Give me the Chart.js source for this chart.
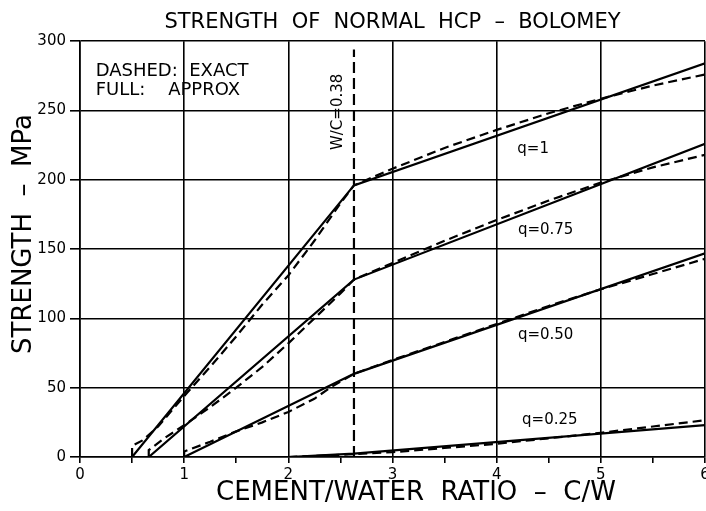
<!DOCTYPE html>
<html>
<head>
<meta charset="utf-8">
<script src="https://cdn.jsdelivr.net/npm/chart.js@4"></script>
<style>
  html, body { margin: 0; padding: 0; background: #fff; }
  canvas { display: block; }
</style>
</head>
<body>
<canvas id="chart" width="706" height="511"></canvas>
<script>
'use strict';

const FONT = '"DejaVu Sans", sans-serif';

// C/W where W/C = 0.38
const wcLine = [[2.63, 0], [2.63, 294]];

// full lines (approx), [C/W, MPa]
const approxQ100 = [[0.5, 0], [2.63, 196], [6, 284]];
const approxQ075 = [[0.66, 0], [2.63, 128], [6, 226]];
const approxQ050 = [[1.0, 0], [2.63, 60], [6, 147]];
const approxQ025 = [[2.0, 0], [2.63, 2.5], [6, 23]];

// dashed lines (exact)
const exactQ100 = [[0.5, 0], [0.5, 8], [0.6, 12], [0.75, 22], [1.0, 44], [1.25, 65], [1.5, 87], [1.75, 110],
    [2.0, 131], [2.25, 156], [2.5, 183], [2.63, 196], [3, 208], [3.5, 223], [4, 236], [4.5, 248],
    [5, 258.5], [5.5, 268], [6, 276]];
const exactQ075 = [[0.66, 0], [0.66, 5], [0.8, 13], [1.0, 23], [1.25, 36], [1.5, 50], [1.75, 65], [2.0, 82],
    [2.25, 100], [2.5, 118], [2.63, 128], [3, 140], [3.5, 156], [4, 171], [4.5, 185], [5, 198],
    [5.5, 209], [6, 218]];
const exactQ050 = [[1.0, 0], [1.0, 4], [1.25, 11], [1.5, 18.5], [1.75, 25], [2.0, 32.5], [2.25, 42], [2.4, 50],
    [2.63, 60], [3, 70], [3.5, 83], [4, 96], [4.5, 109], [5, 121], [5.5, 132], [6, 143]];
const exactQ025 = [[2.0, 0], [2.63, 2], [3, 3.5], [3.5, 6.5], [4, 9.5], [4.5, 13.5], [5, 17.5], [5.5, 22], [6, 26.5]];

const qLabels = ['q=1', 'q=0.75', 'q=0.50', 'q=0.25'];

const toPoints = arr => arr.map(([x, y]) => ({ x, y }));

function lineSet(arr, dash) {
    return {
        data: toPoints(arr),
        borderColor: '#000',
        borderWidth: 2.2,
        borderDash: dash,
        pointRadius: 0,
        tension: 0,
        fill: false
    };
}

// texts placed in data units
const plotText = {
    id: 'plotText',
    afterDraw(chart) {
        const { ctx, scales: { x, y } } = chart;
        ctx.save();
        ctx.fillStyle = '#000';
        ctx.textBaseline = 'middle';

        ctx.font = `18px ${FONT}`;
        ctx.textAlign = 'left';
        ctx.fillText('DASHED:  EXACT', x.getPixelForValue(0.15), y.getPixelForValue(278));
        ctx.fillText('FULL:    APPROX', x.getPixelForValue(0.15), y.getPixelForValue(264.5));

        ctx.font = `15px ${FONT}`;
        ctx.textAlign = 'center';
        const spots = [[4.35, 222], [4.47, 164], [4.47, 88], [4.51, 26.7]];
        qLabels.forEach((t, i) => {
            ctx.fillText(t, x.getPixelForValue(spots[i][0]), y.getPixelForValue(spots[i][1]));
        });

        ctx.save();
        ctx.translate(x.getPixelForValue(2.476), y.getPixelForValue(249));
        ctx.rotate(-Math.PI / 2);
        ctx.fillText('W/C=0.38', 0, 0);
        ctx.restore();

        // axis titles
        ctx.font = `26px ${FONT}`;
        ctx.fillText('CEMENT/WATER  RATIO  –  C/W', 416, 493);
        ctx.save();
        ctx.translate(24, 234);
        ctx.rotate(-Math.PI / 2);
        ctx.fillText('STRENGTH  –  MPa', 0, 0);
        ctx.restore();

        ctx.restore();
    }
};

new Chart(document.getElementById('chart'), {
    type: 'line',
    data: {
        datasets: [
            lineSet(approxQ100, []),
            lineSet(approxQ075, []),
            lineSet(approxQ050, []),
            lineSet(approxQ025, []),
            lineSet(exactQ100, [9, 5]),
            lineSet(exactQ075, [9, 5]),
            lineSet(exactQ050, [9, 5]),
            lineSet(exactQ025, [9, 5]),
            lineSet(wcLine, [11, 5])
        ]
    },
    options: {
        responsive: false,
        animation: false,
        layout: { padding: { left: 0, right: 1, top: 0, bottom: 0 } },
        plugins: {
            legend: { display: false },
            tooltip: { enabled: false },
            title: {
                display: true,
                text: 'STRENGTH  OF  NORMAL  HCP  –  BOLOMEY',
                fullSize: false,
                color: '#000',
                font: { family: FONT, size: 21, weight: 'normal', lineHeight: 1.2 },
                padding: { top: 10, bottom: 6 }
            }
        },
        scales: {
            x: {
                type: 'linear',
                min: 0,
                max: 6,
                ticks: {
                    stepSize: 0.5,
                    autoSkip: false,
                    maxRotation: 0,
                    padding: 3,
                    color: '#000',
                    font: { family: FONT, size: 15 },
                    callback: v => Number.isInteger(v) ? v : ''
                },
                grid: {
                    color: c => (c.tick && !Number.isInteger(c.tick.value)) ? 'rgba(0,0,0,0)' : '#000',
                    tickColor: '#000',
                    lineWidth: 1.6,
                    tickLength: 6
                },
                border: { color: '#000', width: 1.6 },
                afterFit: s => { s.height = 54; s.paddingLeft = 0; s.paddingRight = 0; }
            },
            y: {
                min: 0,
                max: 300,
                ticks: {
                    stepSize: 50,
                    padding: 4,
                    color: '#000',
                    font: { family: FONT, size: 15 }
                },
                grid: { color: '#000', lineWidth: 1.6, tickLength: 10 },
                border: { color: '#000', width: 1.6 },
                afterFit: s => { s.width = 80; }
            }
        }
    },
    plugins: [plotText]
});
</script>
</body>
</html>
